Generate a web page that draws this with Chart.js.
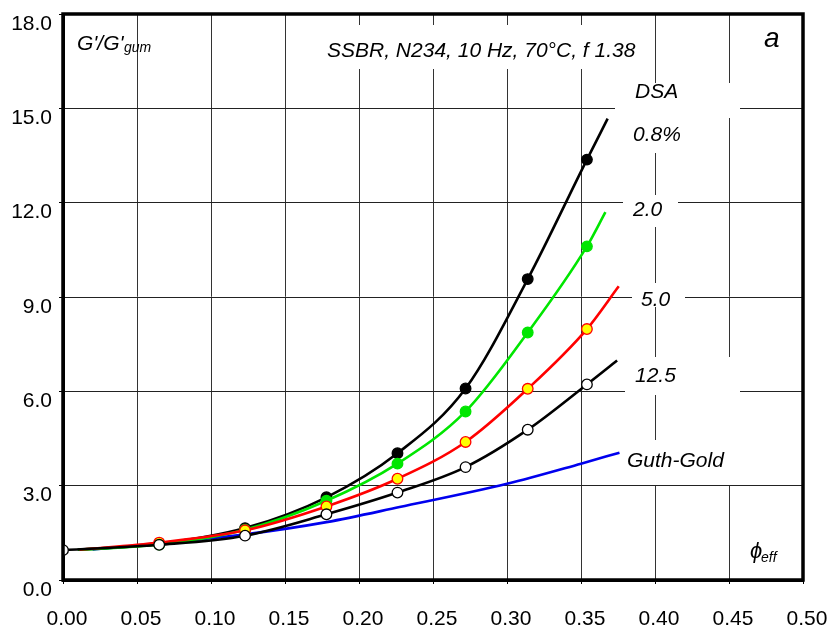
<!DOCTYPE html>
<html>
<head>
<meta charset="utf-8">
<script src="https://cdn.jsdelivr.net/npm/chart.js@4/dist/chart.umd.min.js"></script>
<style>
html,body{margin:0;padding:0;background:#fff;}
#wrap{width:833px;height:632px;}
</style>
</head>
<body>
<div id="wrap"><canvas id="c" width="833" height="632"></canvas></div>
<script>
// ---- data ----
const xTicks = [0.00,0.05,0.10,0.15,0.20,0.25,0.30,0.35,0.40,0.45,0.50];
const yTicks = [0,3,6,9,12,15,18];

// DSA 0.8 %
const dsa08X = [0.010,0.065,0.123,0.178,0.226,0.272,0.314,0.354,0.368];
const dsa08Y = [0.96,1.15,1.65,2.63,4.03,6.09,9.57,13.37,14.67];
// DSA 2.0
const dsa20X = [0.010,0.065,0.123,0.178,0.226,0.272,0.314,0.354,0.3665];
const dsa20Y = [0.96,1.13,1.60,2.52,3.70,5.36,7.87,10.61,11.70];
// DSA 5.0
const dsa50X = [0.011,0.065,0.123,0.178,0.226,0.272,0.314,0.354,0.3755];
const dsa50Y = [0.96,1.19,1.58,2.34,3.22,4.39,6.08,7.98,9.34];
// DSA 12.5
const dsa125X = [0.000,0.065,0.123,0.178,0.226,0.272,0.314,0.354,0.3744];
const dsa125Y = [0.95,1.12,1.41,2.09,2.78,3.59,4.78,6.22,6.98];
// Guth-Gold
const guthX = [0.020,0.065,0.123,0.178,0.2274,0.300,0.350,0.376];
const guthY = [0.97,1.17,1.45,1.84,2.32,3.06,3.70,4.05];

function pts(xs, ys){ return xs.map((x,i)=>({x:x, y:ys[i]})); }
function radii(n, first, last){ const r=[]; for(let i=0;i<n;i++){ r.push((i<first||i>last)?0:5.3); } return r; }

const FONT = '"Liberation Sans", Arial, Helvetica, sans-serif';

const boxes = [
  [318,25,650,69],
  [615,83,740,118],
  [615,118,700,153],
  [623,195,678,227],
  [632,283,685,307],
  [625,357,740,395],
  [720,395,740,440],
  [622,440,755,485]
];

const annot = {
  id:'annot',
  beforeDatasetsDraw(chart){
    const ctx = chart.ctx;
    ctx.save();
    ctx.fillStyle = '#fff';
    boxes.forEach(b=>ctx.fillRect(b[0],b[1],b[2]-b[0],b[3]-b[1]));
    ctx.restore();
  },
  afterDatasetsDraw(chart){
    const ctx = chart.ctx;
    const a = chart.chartArea;
    ctx.save();
    ctx.fillStyle = '#000';
    ctx.textBaseline = 'alphabetic';
    ctx.textAlign = 'left';
    const t = (s, x, y, size) => { ctx.font = 'italic ' + size + 'px ' + FONT; ctx.fillText(s, x, y); };
    t("G'/G'", 77, 50, 21);
    t("gum", 124, 52, 14);
    t("SSBR, N234, 10 Hz, 70°C, f 1.38", 327, 57, 21);
    t("a", 764, 47, 28);
    t("DSA", 635, 98, 21);
    t("0.8%", 633, 141, 21);
    t("2.0", 633, 216, 21);
    t("5.0", 641, 306, 21);
    t("12.5", 635, 382, 21);
    t("Guth-Gold", 627, 467, 21);
    t("\u03D5", 750, 558, 22);
    t("eff", 761, 562, 14);
    // frame
    ctx.strokeStyle = '#000';
    ctx.lineWidth = 3.5;
    ctx.strokeRect(a.left, a.top, a.right - a.left, a.bottom - a.top);
    ctx.restore();
  }
};

const common = {
  showLine: true,
  borderWidth: 2.6,
  cubicInterpolationMode: 'monotone',
  pointBorderWidth: 1.3,
  pointHoverRadius: 5
};

new Chart(document.getElementById('c'), {
  type: 'line',
  data: {
    datasets: [
      Object.assign({}, common, {
        label: '12.5', data: pts(dsa125X, dsa125Y),
        borderColor: '#000', pointBackgroundColor: '#fff', pointBorderColor: '#000',
        pointRadius: radii(dsa125X.length, 0, 7)
      }),
      Object.assign({}, common, {
        label: '5.0', data: pts(dsa50X, dsa50Y),
        borderColor: '#ff0000', pointBackgroundColor: '#ffff00', pointBorderColor: '#ff0000',
        pointRadius: radii(dsa50X.length, 1, 7)
      }),
      Object.assign({}, common, {
        label: '2.0', data: pts(dsa20X, dsa20Y),
        borderColor: '#00e600', pointBackgroundColor: '#00e600', pointBorderColor: '#00e600',
        pointRadius: radii(dsa20X.length, 1, 7)
      }),
      Object.assign({}, common, {
        label: '0.8%', data: pts(dsa08X, dsa08Y),
        borderColor: '#000', pointBackgroundColor: '#000', pointBorderColor: '#000',
        pointRadius: radii(dsa08X.length, 1, 7)
      }),
      Object.assign({}, common, {
        label: 'Guth-Gold', data: pts(guthX, guthY),
        borderColor: '#0000ee', pointRadius: 0
      })
    ]
  },
  options: {
    responsive: false,
    animation: false,
    events: [],
    layout: { padding: { top: 14, right: 30, left: 0, bottom: 0 } },
    plugins: { legend: { display: false }, tooltip: { enabled: false } },
    scales: {
      x: {
        type: 'linear', min: 0, max: 0.5,
        afterBuildTicks(s){ s.ticks = xTicks.map(v=>({value:v})); },
        afterFit(s){ s.height = 52; s.paddingLeft = 0; s.paddingRight = 0; },
        grid: { color: '#333', lineWidth: 1, tickLength: 4, tickColor: '#000', drawTicks: true },
        border: { display: true, color: '#000', width: 3 },
        ticks: {
          color: '#000', font: { family: FONT, size: 21 }, padding: 23, labelOffset: 4,
          maxRotation: 0, autoSkip: false,
          callback: v => Number(v).toFixed(2)
        }
      },
      y: {
        type: 'linear', min: 0, max: 18,
        afterBuildTicks(s){ s.ticks = yTicks.map(v=>({value:v})); },
        afterFit(s){ s.width = 63; s.paddingTop = 0; s.paddingBottom = 0; },
        grid: { color: '#222', lineWidth: 1, tickLength: 4, tickColor: '#000', drawTicks: true },
        border: { display: true, color: '#000', width: 3 },
        ticks: {
          color: '#000', font: { family: FONT, size: 21 }, padding: 7, labelOffset: 10,
          autoSkip: false,
          callback: v => Number(v).toFixed(1)
        }
      }
    }
  },
  plugins: [annot]
});
</script>
</body>
</html>
